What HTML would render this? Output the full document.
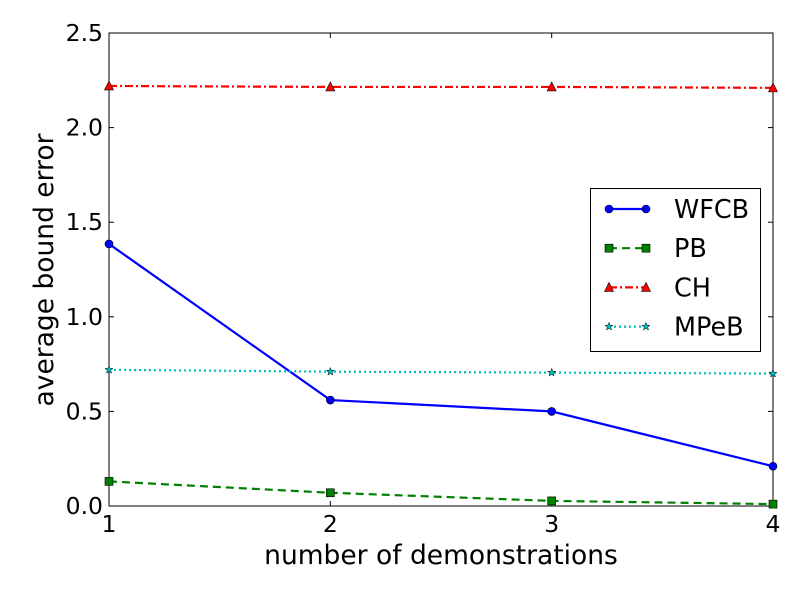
<!DOCTYPE html>
<html><head><meta charset="utf-8"><style>
body{margin:0;background:#fff}
svg{display:block;font-family:"DejaVu Sans","Liberation Sans",sans-serif}
</style></head><body>
<svg id="chart" width="800" height="600" xmlns="http://www.w3.org/2000/svg"></svg>
<script>
const categories=[1,2,3,4];
const wfcbValues=[1.385,0.56,0.50,0.21];
const pbValues=[0.13,0.07,0.027,0.01];
const chValues=[2.22,2.215,2.215,2.21];
const mpebValues=[0.72,0.71,0.705,0.70];
const yTicks=[0,0.5,1,1.5,2,2.5];
const yTickLabels=["0.0","0.5","1.0","1.5","2.0","2.5"];
const xTicks=[1,2,3,4];

const L=109,R=773,T=33,B=506;
const sx=v=>L+(v-1)/3*(R-L);
const sy=v=>B-v/2.5*(B-T);
const svg=document.getElementById('chart');
const NS='http://www.w3.org/2000/svg';
function mk(tag,attrs,parent){const e=document.createElementNS(NS,tag);for(const k in attrs)e.setAttribute(k,attrs[k]);(parent||svg).appendChild(e);return e;}

const frame=mk('rect',{x:L,y:T,width:R-L,height:B-T,fill:'none',stroke:'#000','stroke-width':1});



yTicks.forEach((v,i)=>{
  const y=sy(v);
  mk('line',{x1:L,x2:L+5,y1:y,y2:y,stroke:'#000'});
  mk('line',{x1:R,x2:R-5,y1:y,y2:y,stroke:'#000'});
  const t=mk('text',{x:L-6,y:y+8,'text-anchor':'end','font-size':23.5});
  t.textContent=yTickLabels[i];
  
  
});
xTicks.forEach(v=>{
  const x=sx(v);
  mk('line',{x1:x,x2:x,y1:B,y2:B-5,stroke:'#000'});
  mk('line',{x1:x,x2:x,y1:T,y2:T+5,stroke:'#000'});
  const t=mk('text',{x:x,y:B+26,'text-anchor':'middle','font-size':23.5});
  t.textContent=String(v);
  
  
});
const xt=mk('text',{x:(L+R)/2,y:564,'text-anchor':'middle','font-size':26.5});
xt.textContent='number of demonstrations';


const yt=mk('text',{x:0,y:0,'text-anchor':'middle','font-size':26.5,transform:`translate(53,270) rotate(-90)`});
yt.textContent='average bound error';



function marker(type,x,y,color,g){
  if(type==='o')mk('circle',{cx:x,cy:y,r:4,fill:color,stroke:'#000','stroke-width':0.6},g);
  else if(type==='s')mk('rect',{x:x-4,y:y-4,width:8,height:8,fill:color,stroke:'#000','stroke-width':0.6},g);
  else if(type==='^')mk('polygon',{points:`${x},${y-5} ${x+4.5},${y+4} ${x-4.5},${y+4}`,fill:color,stroke:'#000','stroke-width':0.6},g);
  else {let p=[];for(let i=0;i<10;i++){const r=i%2?1.8:4.2,a=-Math.PI/2+i*Math.PI/5;p.push((x+r*Math.cos(a)).toFixed(1)+','+(y+r*Math.sin(a)).toFixed(1));}
    mk('polygon',{points:p.join(' '),fill:color,stroke:'#000','stroke-width':0.5},g);}
}
const series=[
  {name:'WFCB',vals:wfcbValues,color:'#0000ff',dash:'',m:'o'},
  {name:'PB',vals:pbValues,color:'#008000',dash:'8,5',m:'s'},
  {name:'CH',vals:chValues,color:'#ff0000',dash:'8,3,2,3',m:'^'},
  {name:'MPeB',vals:mpebValues,color:'#00bfbf',dash:'2,3',m:'*'}
];
series.forEach(s=>{
  const g=mk('g',{});
  
  
  const pts=s.vals.map((v,i)=>sx(categories[i])+','+sy(v)).join(' ');
  mk('polyline',{points:pts,fill:'none',stroke:s.color,'stroke-width':2.2,'stroke-dasharray':s.dash},g);
  s.vals.forEach((v,i)=>marker(s.m,sx(categories[i]),sy(v),s.color,g));
});
const lg=mk('g',{});


mk('rect',{x:590.5,y:188.5,width:170,height:163,fill:'#fff',stroke:'#000','stroke-width':1},lg);
series.forEach((s,i)=>{
  const y=209+i*39.2;
  const e=mk('g',{},lg);
  
  
  mk('line',{x1:609,x2:646,y1:y,y2:y,stroke:s.color,'stroke-width':2.2,'stroke-dasharray':s.dash},e);
  marker(s.m,609,y,s.color,e);marker(s.m,646,y,s.color,e);
  const t=mk('text',{x:674,y:y+9,'font-size':25.5},e);
  t.textContent=s.name;
});
</script>
</body></html>
